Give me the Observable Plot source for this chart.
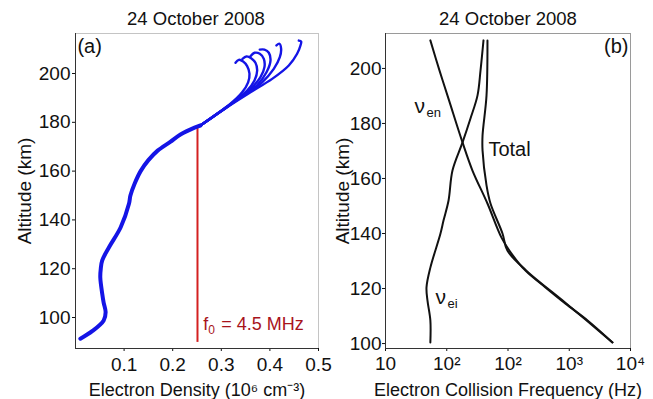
<!DOCTYPE html>
<html>
<head>
<meta charset="utf-8">
<script src="https://cdn.jsdelivr.net/npm/d3@7"></script>
<script src="https://cdn.jsdelivr.net/npm/@observablehq/plot@0.6"></script>
<style>
  body { margin: 0; background: #fff; }
  #fig { position: relative; width: 653px; height: 399px; overflow: hidden; background: #fff;
         font-family: "Liberation Sans", Arial, sans-serif; color: #111; }
  .panel { position: absolute; top: 0; }
  .title { position: absolute; top: 9px; width: 260px; text-align: center; font-size: 18.5px; line-height: 20px; }
</style>
</head>
<body>
<div id="fig">
  <div class="title" style="left:66px">24 October 2008</div>
  <div class="title" style="left:378px">24 October 2008</div>
  <div class="panel" id="left" style="left:0"></div>
  <div class="panel" id="right" style="left:323px"></div>
</div>
<script>
const FONT = "Liberation Sans, Arial, sans-serif";

// ---- Panel (a): electron density profiles ----
// common lower part of the profiles (density in 10^6 cm^-3, altitude in km)
const baseDensity  = [0.010, 0.035, 0.058, 0.062, 0.058, 0.055, 0.051, 0.052, 0.055, 0.069, 0.093, 0.110, 0.113, 0.122, 0.134, 0.150, 0.169, 0.195, 0.216, 0.245, 0.257];
const baseAltitude = [91.3, 94.5, 98.8, 102.2, 106.0, 109.7, 116.5, 120.0, 123.4, 128.8, 137.0, 146.6, 150.0, 155.0, 160.0, 164.5, 168.4, 172.0, 175.0, 177.8, 178.7];

// upper parts, one per profile
const topDensity = [
  [0.257, 0.2914, 0.3189, 0.3429, 0.3552, 0.3580, 0.3532, 0.3450, 0.3360, 0.3292],
  [0.257, 0.2949, 0.3257, 0.3532, 0.3683, 0.3738, 0.3703, 0.3614, 0.3518, 0.3436],
  [0.257, 0.2983, 0.3326, 0.3635, 0.3806, 0.3888, 0.3875, 0.3792, 0.3683, 0.3600],
  [0.257, 0.3017, 0.3395, 0.3738, 0.3930, 0.4012, 0.3978, 0.3888, 0.3792],
  [0.257, 0.3052, 0.3463, 0.3840, 0.4080, 0.4204, 0.4231, 0.4197, 0.4135],
  [0.257, 0.3120, 0.3600, 0.4046, 0.4389, 0.4560, 0.4629, 0.4643, 0.4595]
];
const topAltitude = [
  [178.7, 183.5, 187.6, 192.3, 196.4, 199.9, 203.0, 204.9, 205.6, 204.4],
  [178.7, 183.9, 188.5, 193.0, 197.1, 201.2, 204.4, 206.3, 207.0, 206.0],
  [178.7, 184.4, 189.3, 194.4, 198.5, 202.6, 206.0, 208.1, 208.5, 207.1],
  [178.7, 184.8, 190.3, 195.3, 200.5, 205.3, 208.5, 209.8, 209.8],
  [178.7, 185.5, 191.0, 196.4, 201.9, 206.7, 210.1, 212.2, 211.5],
  [178.7, 186.2, 192.3, 197.8, 203.3, 208.1, 211.5, 213.1, 213.5]
];

// plasma density for the 4.5 MHz heater frequency, and the altitude span of its marker
const f0Density = 0.251;
const f0Altitude = [89.8, 177.5];

const densityTicks = [0.1, 0.2, 0.3, 0.4, 0.5];
const altitudeTicks = [100, 120, 140, 160, 180, 200];

// ---- Panel (b): electron collision frequencies (Hz) ----
const enAltitude = [210.2, 199.3, 188.4, 173.1, 162.9, 150.9, 138.5, 132.7, 126.5, 120.4, 114.5, 108.4, 100.4];
const enFreq     = [54, 76, 109, 181, 263, 462, 783, 1140, 1930, 4090, 8690, 19900, 50800];

const eiAltitude = [210.2, 199.3, 190.2, 181.8, 173.1, 162.9, 152.0, 144.7, 140.0, 127.6, 120.4, 115.6, 108.4, 100.4];
const eiFreq     = [398, 356, 318, 244, 181, 124, 107, 88.5, 79, 54, 46.7, 48.5, 54, 54];

const totalAltitude = [210.2, 190.2, 175.6, 170.2, 157.5, 150.9, 140.0, 133.8, 126.5, 114.5, 100.4];
const totalFreq     = [462, 446, 384, 384, 446, 518, 813, 977, 1995, 9020, 50800];

const freqTicks = [10, 100, 1000, 10000, 100000];
const freqTickLabels = ["10", "10²", "10²", "10³", "10⁴"];

const toPoints = (xs, ys) => xs.map((x, i) => ({x, y: ys[i]}));
const AXIS_FONT = 19;

const leftPlot = Plot.plot({
  width: 335, height: 399,
  marginLeft: 75, marginRight: 17, marginTop: 33, marginBottom: 51,
  style: {fontFamily: FONT, fontSize: "18px", background: "transparent", color: "#111"},
  x: {domain: [0, 0.5]},
  y: {domain: [87.3, 216.4]},
  marks: [
    Plot.frame({stroke: "#c4c4c4"}),
    Plot.axisX(densityTicks, {tickSize: 3, tickPadding: 6, fontSize: AXIS_FONT, tickFormat: d => d.toFixed(1), label: null}),
    Plot.axisX({ticks: [], tickSize: 0, fontSize: 18, label: "Electron Density (10⁶ cm⁻³)", labelAnchor: "center", labelOffset: 47, labelArrow: "none"}),
    Plot.axisY(altitudeTicks, {tickSize: 3, tickPadding: 2, fontSize: AXIS_FONT, label: null}),
    Plot.axisY({ticks: [], tickSize: 0, fontSize: 19, label: "Altitude (km)", labelAnchor: "center", labelOffset: 58, labelArrow: "none"}),
    Plot.ruleX([0], {stroke: "#333"}),
    Plot.ruleY([87.3], {stroke: "#333"}),
    Plot.ruleX([f0Density], {y1: f0Altitude[0], y2: f0Altitude[1], stroke: "#d42020", strokeWidth: 2}),
    Plot.line(toPoints(baseDensity, baseAltitude), {x: "x", y: "y", stroke: "#1414e6", strokeWidth: 4, curve: "catmull-rom"}),
    ...topDensity.map((d, i) => Plot.line(toPoints(d, topAltitude[i]), {x: "x", y: "y", stroke: "#1414e6", strokeWidth: 2.4, curve: "catmull-rom"})),
    Plot.text(["(a)"], {x: 0.004, y: 211.1, text: d => d, textAnchor: "start", fontSize: 20}),
    Plot.text(["f"], {x: 0.263, y: 97.1, text: d => d, textAnchor: "start", fontSize: 18, fill: "#a8141c"}),
    Plot.text(["0"], {x: 0.263, y: 97.1, text: d => d, textAnchor: "start", fontSize: 12, dx: 5, dy: 6, fill: "#a8141c"}),
    Plot.text(["= 4.5 MHz"], {x: 0.263, y: 97.1, text: d => d, textAnchor: "start", fontSize: 18, dx: 18, fill: "#a8141c"})
  ]
});
document.getElementById("left").append(leftPlot);

const rightPlot = Plot.plot({
  width: 330, height: 399,
  marginLeft: 62, marginRight: 23, marginTop: 33, marginBottom: 51,
  style: {fontFamily: FONT, fontSize: "18px", background: "transparent", color: "#111"},
  x: {type: "log", domain: [10, 100000]},
  y: {domain: [98.2, 212.7]},
  marks: [
    Plot.frame({stroke: "#9a9a9a"}),
    Plot.axisX(freqTicks, {tickSize: 3, tickPadding: 5, fontSize: AXIS_FONT, tickFormat: d => freqTickLabels[freqTicks.indexOf(d)], label: null}),
    Plot.axisX({ticks: [], tickSize: 0, fontSize: 18, label: "Electron Collision Frequency (Hz)", labelAnchor: "center", labelOffset: 47, labelArrow: "none"}),
    Plot.axisY(altitudeTicks, {tickSize: 3, tickPadding: 1, fontSize: AXIS_FONT, label: null}),
    Plot.axisY({ticks: [], tickSize: 0, fontSize: 19, label: "Altitude (km)", labelAnchor: "center", labelOffset: 50, labelArrow: "none"}),
    Plot.ruleX([10], {stroke: "#333"}),
    Plot.ruleY([98.2], {stroke: "#333"}),
    Plot.line(toPoints(enFreq, enAltitude), {x: "x", y: "y", stroke: "#111", strokeWidth: 2, curve: "catmull-rom"}),
    Plot.line(toPoints(eiFreq, eiAltitude), {x: "x", y: "y", stroke: "#111", strokeWidth: 2, curve: "catmull-rom"}),
    Plot.line(toPoints(totalFreq, totalAltitude), {x: "x", y: "y", stroke: "#111", strokeWidth: 2, curve: "catmull-rom"}),
    Plot.text(["ν"], {x: 29.7, y: 186.2, text: d => d, textAnchor: "start", fontSize: 21}),
    Plot.text(["en"], {x: 29.7, y: 186.2, text: d => d, textAnchor: "start", fontSize: 13, dx: 12, dy: 6}),
    Plot.text(["ν"], {x: 65.5, y: 116.7, text: d => d, textAnchor: "start", fontSize: 21}),
    Plot.text(["ei"], {x: 65.5, y: 116.7, text: d => d, textAnchor: "start", fontSize: 13, dx: 12, dy: 6}),
    Plot.text(["Total"], {x: 479, y: 170.5, text: d => d, textAnchor: "start", fontSize: 20}),
    Plot.text(["(b)"], {x: 92700, y: 208, text: d => d, textAnchor: "end", fontSize: 20})
  ]
});
document.getElementById("right").append(rightPlot);
</script>
</body>
</html>
